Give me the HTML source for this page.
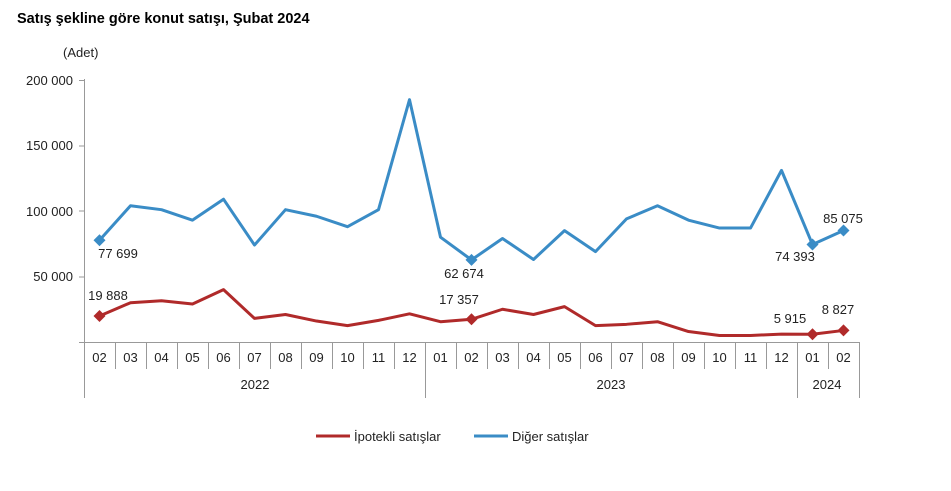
<!DOCTYPE html><html><head><meta charset="utf-8"><style>
body{margin:0;background:#fff}
svg text{font-family:"Liberation Sans",Arial,sans-serif;fill:#222}
</style></head><body>
<svg width="951" height="486" viewBox="0 0 951 486" xmlns="http://www.w3.org/2000/svg">
<text x="17" y="23" font-size="14.5" font-weight="bold" style="fill:#000">Satış şekline göre konut satışı, Şubat 2024</text>
<text x="63" y="57" font-size="13">(Adet)</text>
<g font-size="13" text-anchor="end">
<text x="73" y="85">200 000</text><text x="73" y="150">150 000</text><text x="73" y="216">100 000</text><text x="73" y="281">50 000</text>
</g>
<g stroke="#999" stroke-width="1" fill="none">
<line x1="84.5" y1="79" x2="84.5" y2="398"/>
<line x1="79" y1="80.5" x2="84" y2="80.5"/><line x1="79" y1="146" x2="84" y2="146"/><line x1="79" y1="211" x2="84" y2="211"/><line x1="79" y1="277" x2="84" y2="277"/>
<line x1="79" y1="342.5" x2="860" y2="342.5"/>
<g id="sep"></g>
</g>
<g font-size="13" text-anchor="middle">
<text x="99.5" y="362">02</text><text x="130.5" y="362">03</text><text x="161.5" y="362">04</text><text x="192.5" y="362">05</text><text x="223.5" y="362">06</text><text x="254.5" y="362">07</text><text x="285.5" y="362">08</text><text x="316.5" y="362">09</text><text x="347.5" y="362">10</text><text x="378.5" y="362">11</text><text x="409.5" y="362">12</text><text x="440.5" y="362">01</text><text x="471.5" y="362">02</text><text x="502.5" y="362">03</text><text x="533.5" y="362">04</text><text x="564.5" y="362">05</text><text x="595.5" y="362">06</text><text x="626.5" y="362">07</text><text x="657.5" y="362">08</text><text x="688.5" y="362">09</text><text x="719.5" y="362">10</text><text x="750.5" y="362">11</text><text x="781.5" y="362">12</text><text x="812.5" y="362">01</text><text x="843.5" y="362">02</text>
<text x="255" y="389">2022</text><text x="611" y="389">2023</text><text x="827" y="389">2024</text>
</g>
<polyline id="blue" fill="none" stroke="#3a8cc6" stroke-width="3" stroke-linejoin="round"/>
<polyline id="red" fill="none" stroke="#b02a2a" stroke-width="3" stroke-linejoin="round"/>
<g id="mk"></g>
<g font-size="13" text-anchor="middle">
<text x="118" y="258">77 699</text><text x="108" y="300">19 888</text>
<text x="464" y="278">62 674</text><text x="459" y="304">17 357</text>
<text x="795" y="261">74 393</text><text x="843" y="223">85 075</text>
<text x="790" y="323">5 915</text><text x="838" y="314">8 827</text>
</g>
<line x1="316" y1="436" x2="350" y2="436" stroke="#b02a2a" stroke-width="3"/>
<text x="354" y="441" font-size="13">İpotekli satışlar</text>
<line x1="474" y1="436" x2="508" y2="436" stroke="#3a8cc6" stroke-width="3"/>
<text x="512" y="441" font-size="13">Diğer satışlar</text>
</svg>
<script>
var blue=[77699,104000,101000,93000,109000,74000,101000,96000,88000,101000,185000,80000,62674,79000,63000,85000,69000,94000,104000,93000,87000,87000,131000,74393,85075];
var red=[19888,30000,31500,29000,40000,18000,21000,16000,12500,16500,21500,15500,17357,25000,21000,27000,12500,13500,15500,8000,5000,5000,6000,5915,8827];
var ns="http://www.w3.org/2000/svg";
function X(i){return 84+31*(i+0.5);}function Y(v){return 342-v*0.00131;}
document.getElementById('blue').setAttribute('points',blue.map((v,i)=>X(i)+','+Y(v)).join(' '));
document.getElementById('red').setAttribute('points',red.map((v,i)=>X(i)+','+Y(v)).join(' '));
var sep=document.getElementById('sep');
for(var i=1;i<=25;i++){var l=document.createElementNS(ns,'line');var x=84.5+31*i;var big=(i==11||i==23||i==25);
l.setAttribute('x1',x);l.setAttribute('x2',x);l.setAttribute('y1',342);l.setAttribute('y2',big?398:369);sep.appendChild(l);}
var mk=document.getElementById('mk');
[[0,blue,'#3a8cc6'],[12,blue,'#3a8cc6'],[23,blue,'#3a8cc6'],[24,blue,'#3a8cc6'],[0,red,'#b02a2a'],[12,red,'#b02a2a'],[23,red,'#b02a2a'],[24,red,'#b02a2a']].forEach(function(a){
var p=document.createElementNS(ns,'polygon');var x=X(a[0]),y=Y(a[1][a[0]]);
p.setAttribute('points',(x)+','+(y-6)+' '+(x+6)+','+y+' '+x+','+(y+6)+' '+(x-6)+','+y);p.setAttribute('fill',a[2]);mk.appendChild(p);});
</script>
</body></html>
